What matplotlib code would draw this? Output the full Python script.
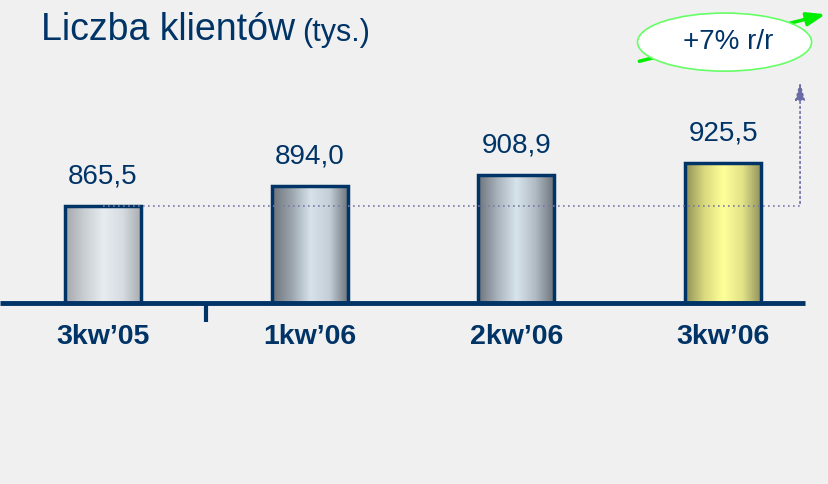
"""
Liczba klientów (tys.) - bar chart with gradient columns
"""

import numpy as np
import matplotlib
matplotlib.use("Agg")
import matplotlib.pyplot as plt
from matplotlib.colors import LinearSegmentedColormap
from matplotlib.patches import Ellipse

quarters = ["3kw\u201905", "1kw\u201906", "2kw\u201906", "3kw\u201906"]
clients = [865.5, 894.0, 908.9, 925.5]
value_labels = ["865,5", "894,0", "908,9", "925,5"]
growth_label = "+7% r/r"

# gradient stops per bar (edge -> highlight -> edge)
bar_gradients = [
    ["#a4a8ad", "#c9ced3", "#e6ecf0", "#d6dce1", "#a6aaae"],
    ["#6c727a", "#9aa3ac", "#d6e2ea", "#c4ced7", "#6a7078"],
    ["#6c727a", "#a8b2bb", "#d8e4ec", "#b0bac3", "#6a7078"],
    ["#8f8f58", "#d9d97e", "#ffff99", "#e2e288", "#8e8e5a"],
]

NAVY = "#003366"
BG = "#f0f0f0"
BASE = 730.2
FONT = ["Liberation Sans", "DejaVu Sans"]


def plot_clients():
    fig = plt.figure(figsize=(8.29, 4.84), dpi=100, facecolor=BG)
    ax = fig.add_axes([0, 0, 1, 1])
    ax.set_facecolor(BG)
    ax.set_xlim(-0.498, 3.512)
    ax.set_ylim(477.7, 1153.0)
    ax.axis("off")

    width = 0.368
    x = np.arange(len(clients))
    for i, v in enumerate(clients):
        cmap = LinearSegmentedColormap.from_list(f"g{i}", bar_gradients[i])
        grad = np.linspace(0, 1, 256).reshape(1, -1)
        ax.imshow(grad, cmap=cmap, aspect="auto", zorder=2,
                  extent=[x[i] - width / 2, x[i] + width / 2, BASE, v])
    ax.bar(x, np.array(clients) - BASE, bottom=BASE, width=width,
           fill=False, edgecolor=NAVY, linewidth=2.5, zorder=3)

    # value labels
    for i, v in enumerate(clients):
        ax.annotate(value_labels[i], (x[i], v), xytext=(0, 21),
                    textcoords="offset points", ha="center", va="center",
                    fontsize=20, color=NAVY, family=FONT)

    # category labels
    for i, q in enumerate(quarters):
        ax.text(x[i], BASE - 48, q, ha="center", va="center", fontsize=20.5,
                fontweight="bold", color=NAVY, family=FONT)

    # baseline and tick
    ax.plot([-0.5, 3.395], [BASE, BASE], color=NAVY, lw=3.5, zorder=4,
            solid_capstyle="butt")
    ax.plot([0.5, 0.5], [BASE, BASE - 26], color=NAVY, lw=3, zorder=4,
            solid_capstyle="butt")

    # dotted reference line + arrow
    ax.plot([0, 3.372], [clients[0], clients[0]], color="#7a7aa8", lw=1.2,
            ls=(0, (1, 2)), zorder=5)
    ax.annotate("", xy=(3.372, 1043), xytext=(3.372, clients[0]),
                arrowprops=dict(arrowstyle="-|>,head_length=1.1,head_width=0.3",
                                color="#6a6aa6", lw=1.2, ls=(0, (1, 2))),
                zorder=5)

    # green growth arrow and ellipse
    ax.annotate("", xy=(0.999, 0.972), xytext=(0.768, 0.872),
                xycoords="axes fraction", textcoords="axes fraction",
                arrowprops=dict(arrowstyle="-|>,head_length=1.1,head_width=0.4",
                                color="#00ee00", lw=2.5),
                zorder=6)
    ax.add_patch(Ellipse((0.874, 0.913), 0.21, 0.12, transform=ax.transAxes,
                         facecolor="white", edgecolor="#66ff66", lw=1.2,
                         zorder=7))
    ax.text(0.878, 0.913, growth_label, transform=ax.transAxes, ha="center",
            va="center", fontsize=20, color=NAVY, family=FONT, zorder=8)

    # title
    fig.text(0.049, 0.938, "Liczba klientów", fontsize=27, color=NAVY,
             family=FONT, va="center")
    fig.text(0.364, 0.932, "(tys.)", fontsize=22, color=NAVY, family=FONT,
             va="center")

    fig.savefig("out.png", dpi=100, facecolor=BG)


if __name__ == "__main__":
    plot_clients()
